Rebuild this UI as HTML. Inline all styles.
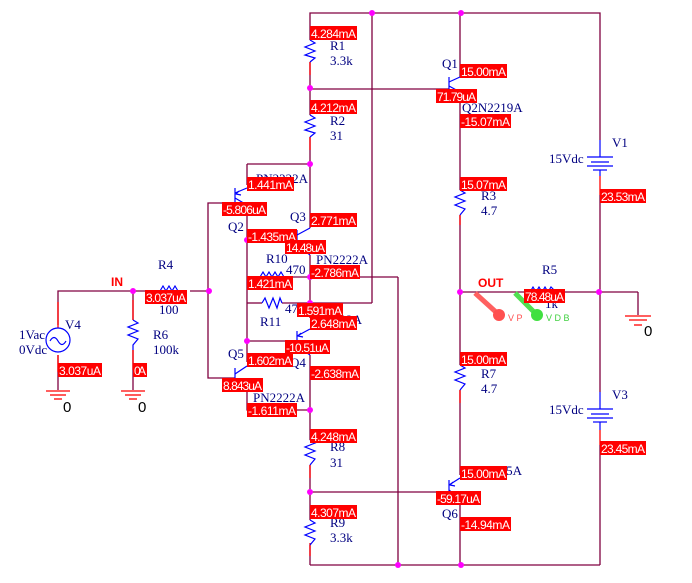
<!DOCTYPE html>
<html><head><meta charset="utf-8"><style>
html,body{margin:0;padding:0;background:#fff;}
svg{display:block;}
.w{stroke:#800040;stroke-width:1.3;fill:none;}
.b{stroke:#0000ff;stroke-width:1.2;fill:none;}
.r{stroke:#ff0000;stroke-width:1.3;fill:none;}
.n{fill:#ff00ff;}
.t{font-family:"Liberation Serif",serif;font-size:13px;fill:#000080;}
.l{font-family:"Liberation Sans",sans-serif;font-size:12px;fill:#fff;}
.lb{fill:#ff0000;}
.k{font-family:"Liberation Sans",sans-serif;font-size:15px;fill:#000;}
</style></head><body>
<svg width="692" height="583" viewBox="0 0 692 583" xmlns="http://www.w3.org/2000/svg">
<g class="w">
<polyline points="310,40 310,13 600,13 600,140"/>
<line x1="600" y1="195" x2="600" y2="392"/>
<line x1="600" y1="445" x2="600" y2="565"/>
<line x1="310" y1="565" x2="600" y2="565"/>
<line x1="310" y1="545" x2="310" y2="565"/>
<line x1="310" y1="62" x2="310" y2="115"/>
<line x1="310" y1="137" x2="310" y2="228"/>
<line x1="310" y1="255" x2="310" y2="318"/>
<line x1="310" y1="355" x2="310" y2="440"/>
<line x1="310" y1="465" x2="310" y2="520"/>
<line x1="310" y1="89" x2="449" y2="89"/>
<line x1="372" y1="13" x2="372" y2="303"/>
<line x1="247" y1="303" x2="262" y2="303"/>
<line x1="282" y1="303" x2="372" y2="303"/>
<line x1="460" y1="13" x2="460" y2="77"/>
<line x1="460" y1="100" x2="460" y2="190"/>
<line x1="460" y1="215" x2="460" y2="365"/>
<line x1="460" y1="390" x2="460" y2="475"/>
<line x1="460" y1="505" x2="460" y2="565"/>
<line x1="460" y1="292" x2="530" y2="292"/>
<line x1="556" y1="292" x2="638" y2="292"/>
<line x1="638" y1="292" x2="638" y2="315"/>
<line x1="310" y1="492" x2="449" y2="492"/>
<line x1="247" y1="277" x2="398" y2="277"/>
<line x1="398" y1="277" x2="398" y2="565"/>
<polyline points="247,164 310,164"/>
<line x1="247" y1="164" x2="247" y2="185"/>
<line x1="247" y1="205" x2="247" y2="303"/>
<line x1="247" y1="240" x2="297" y2="240"/>
<line x1="247" y1="303" x2="247" y2="362"/>
<line x1="247" y1="341" x2="297" y2="341"/>
<polyline points="247,388 247,410 310,410"/>
<polyline points="235,203 208,203 208,378 235,378"/>
<polyline points="58,325 58,291 145,291"/>
<line x1="190" y1="291" x2="208" y2="291"/>
<line x1="133" y1="291" x2="133" y2="320"/>
<line x1="133" y1="350" x2="133" y2="390"/>
<line x1="58" y1="355" x2="58" y2="390"/>
</g>
<g class="r">
<line x1="310" y1="62" x2="310" y2="75"/>
<line x1="310" y1="137" x2="310" y2="150"/>
<line x1="310" y1="465" x2="310" y2="478"/>
<line x1="310" y1="543" x2="310" y2="556"/>
<line x1="460" y1="215" x2="460" y2="225"/>
<line x1="460" y1="390" x2="460" y2="403"/>
<line x1="600" y1="176" x2="600" y2="195"/>
<line x1="600" y1="430" x2="600" y2="445"/>
<line x1="58" y1="355" x2="58" y2="372"/>
<line x1="133" y1="350" x2="133" y2="370"/>
<line x1="58" y1="302" x2="58" y2="328"/>
<line x1="133" y1="300" x2="133" y2="320"/>
</g>
<g class="b">
<polyline points="310,40 315,43 305,47 315,51 305,55 315,58 310,62"/>
<polyline points="310,115 315,118 305,122 315,126 305,130 315,133 310,137"/>
<polyline points="310,440 315,443 305,447 315,451 305,455 315,459 310,465"/>
<polyline points="310,520 315,523 305,527 315,531 305,535 315,539 310,545"/>
<polyline points="460,190 465,193 455,197 465,201 455,205 465,209 460,215"/>
<polyline points="460,365 465,368 455,372 465,376 455,380 465,384 460,390"/>
<polyline points="133,320 138,323 128,327 138,331 128,335 138,339 133,345 133,350"/>
<polyline points="262,303 265,298 269,308 273,298 277,308 280,298 282,303"/>
<polyline points="260,277 263,272 266,277 269,272 272,277 275,272 278,277 281,272 284,277"/>
<polyline points="160,291 163,286 166,291 169,286 172,291 175,286 178,291"/>
<polyline points="530,292 533,287 536,292 539,287 542,292 545,287 548,292 551,287 556,292"/>
<line x1="449" y1="77" x2="449" y2="92"/><line x1="449" y1="82" x2="460" y2="77"/><line x1="449" y1="86" x2="460" y2="92"/>
<line x1="235" y1="188" x2="235" y2="205"/><line x1="235" y1="193" x2="247" y2="188"/><line x1="235" y1="198" x2="247" y2="205"/><polyline points="239,191 236,194 241,195"/>
<line x1="297" y1="230" x2="297" y2="250"/><line x1="297" y1="235" x2="310" y2="228"/><line x1="297" y1="245" x2="310" y2="255"/>
<line x1="297" y1="331" x2="297" y2="351"/><line x1="297" y1="336" x2="310" y2="329"/><line x1="297" y1="346" x2="310" y2="355"/><polyline points="301,333 298,336 303,337"/>
<line x1="235" y1="368" x2="235" y2="388"/><line x1="235" y1="374" x2="247" y2="366"/><line x1="235" y1="383" x2="247" y2="388"/>
<line x1="449" y1="480" x2="449" y2="494"/><line x1="449" y1="485" x2="460" y2="478"/><line x1="449" y1="490" x2="460" y2="500"/><polyline points="453,482 450,485 455,486"/>
<line x1="600" y1="140" x2="600" y2="157"/><line x1="587" y1="157" x2="613" y2="157"/><line x1="591" y1="162" x2="609" y2="162"/><line x1="587" y1="166" x2="613" y2="166"/><line x1="593" y1="170" x2="607" y2="170"/><line x1="600" y1="170" x2="600" y2="176"/>
<line x1="600" y1="392" x2="600" y2="409"/><line x1="587" y1="409" x2="613" y2="409"/><line x1="591" y1="414" x2="609" y2="414"/><line x1="587" y1="418" x2="613" y2="418"/><line x1="593" y1="422" x2="607" y2="422"/><line x1="600" y1="422" x2="600" y2="430"/>
<circle cx="58" cy="340" r="12"/>
<path d="M50,341 q4,-7 8,0 t8,0"/>
</g>
<g class="r">
<line x1="46" y1="391" x2="70" y2="391"/><line x1="50" y1="395" x2="66" y2="395"/><line x1="54" y1="399" x2="62" y2="399"/>
<line x1="121" y1="391" x2="145" y2="391"/><line x1="125" y1="395" x2="141" y2="395"/><line x1="129" y1="399" x2="137" y2="399"/>
<line x1="625" y1="316" x2="651" y2="316"/><line x1="629" y1="320" x2="647" y2="320"/><line x1="634" y1="325" x2="642" y2="325"/>
</g>
<text class="k" x="63" y="412">0</text><text class="k" x="138" y="412">0</text><text class="k" x="644" y="336">0</text>
<g class="n">
<circle cx="372" cy="13" r="3"/><circle cx="461" cy="13" r="3"/><circle cx="310" cy="88" r="3"/><circle cx="310" cy="164" r="3"/>
<circle cx="247" cy="240" r="3"/><circle cx="310" cy="277" r="3"/><circle cx="310" cy="303" r="3"/><circle cx="247" cy="341" r="3"/>
<circle cx="310" cy="410" r="3"/><circle cx="310" cy="492" r="3"/><circle cx="398" cy="565" r="3"/><circle cx="461" cy="565" r="3"/>
<circle cx="460" cy="292" r="3"/><circle cx="599" cy="292" r="3"/><circle cx="133" cy="291" r="3"/><circle cx="209" cy="291" r="3"/>
</g>
<line x1="475" y1="293" x2="497" y2="313" stroke="#ff6060" stroke-width="5"/><circle cx="499" cy="315" r="6" fill="#ff5050"/>
<text x="508" y="321" font-family="Liberation Sans,sans-serif" font-size="9" fill="#ff5050">V P</text>
<line x1="515" y1="293" x2="535" y2="313" stroke="#50e050" stroke-width="5"/><circle cx="537" cy="315" r="6" fill="#40e040"/>
<text x="546" y="321" font-family="Liberation Sans,sans-serif" font-size="9" fill="#40d040">V D B</text>
<g class="t">
<text x="330" y="50">R1</text><text x="330" y="65">3.3k</text>
<text x="330" y="125">R2</text><text x="330" y="140">31</text>
<text x="442" y="68">Q1</text><text x="462" y="112">Q2N2219A</text>
<text x="256" y="183">PN2222A</text>
<text x="290" y="221">Q3</text><text x="228" y="231">Q2</text>
<text x="266" y="263">R10</text><text x="286" y="274">470</text><text x="316" y="264">PN2222A</text>
<text x="260" y="326">R11</text><text x="285" y="313">47</text><text x="310" y="324">PN2222A</text>
<text x="290" y="367">Q4</text><text x="228" y="358">Q5</text><text x="253" y="402">PN2222A</text>
<text x="330" y="451">R8</text><text x="330" y="467">31</text>
<text x="330" y="527">R9</text><text x="330" y="542">3.3k</text>
<text x="481" y="200">R3</text><text x="481" y="215">4.7</text>
<text x="612" y="147">V1</text><text x="549" y="163">15Vdc</text>
<text x="542" y="274">R5</text><text x="545" y="308">1k</text>
<text x="481" y="378">R7</text><text x="481" y="393">4.7</text>
<text x="612" y="399">V3</text><text x="549" y="414">15Vdc</text>
<text x="442" y="518">Q6</text><text x="470" y="475">PN2905A</text>
<text x="158" y="269">R4</text><text x="159" y="314">100</text>
<text x="153" y="339">R6</text><text x="153" y="354">100k</text>
<text x="65" y="329">V4</text><text x="19" y="339">1Vac</text><text x="19" y="354">0Vdc</text>
</g>
<text x="111" y="286" font-family="Liberation Sans,sans-serif" font-size="12" font-weight="bold" fill="#ff0000">IN</text>
<text x="478" y="287" font-family="Liberation Sans,sans-serif" font-size="12" font-weight="bold" fill="#ff0000">OUT</text>
<g>
<rect class="lb" x="310" y="26" width="47" height="14"/><text class="l" x="311" y="38" textLength="45">4.284mA</text>
<rect class="lb" x="310" y="100" width="47" height="14"/><text class="l" x="311" y="112" textLength="45">4.212mA</text>
<rect class="lb" x="247" y="177" width="47" height="14"/><text class="l" x="248" y="189" textLength="45">1.441mA</text>
<rect class="lb" x="222" y="202" width="45" height="14"/><text class="l" x="223" y="214" textLength="43">-5.806uA</text>
<rect class="lb" x="310" y="213" width="47" height="14"/><text class="l" x="311" y="225" textLength="45">2.771mA</text>
<rect class="lb" x="247" y="229" width="50" height="14"/><text class="l" x="248" y="241" textLength="48">-1.435mA</text>
<rect class="lb" x="285" y="240" width="41" height="14"/><text class="l" x="286" y="252" textLength="39">14.48uA</text>
<rect class="lb" x="310" y="265" width="50" height="14"/><text class="l" x="311" y="277" textLength="48">-2.786mA</text>
<rect class="lb" x="247" y="276" width="46" height="14"/><text class="l" x="248" y="288" textLength="44">1.421mA</text>
<rect class="lb" x="297" y="303" width="46" height="14"/><text class="l" x="298" y="315" textLength="44">1.591mA</text>
<rect class="lb" x="310" y="316" width="47" height="14"/><text class="l" x="311" y="328" textLength="45">2.648mA</text>
<rect class="lb" x="285" y="340" width="45" height="14"/><text class="l" x="286" y="352" textLength="43">-10.51uA</text>
<rect class="lb" x="247" y="353" width="46" height="14"/><text class="l" x="248" y="365" textLength="44">1.602mA</text>
<rect class="lb" x="310" y="366" width="50" height="14"/><text class="l" x="311" y="378" textLength="48">-2.638mA</text>
<rect class="lb" x="222" y="378" width="41" height="14"/><text class="l" x="223" y="390" textLength="39">8.843uA</text>
<rect class="lb" x="247" y="403" width="50" height="14"/><text class="l" x="248" y="415" textLength="48">-1.611mA</text>
<rect class="lb" x="310" y="429" width="47" height="14"/><text class="l" x="311" y="441" textLength="45">4.248mA</text>
<rect class="lb" x="310" y="505" width="47" height="14"/><text class="l" x="311" y="517" textLength="45">4.307mA</text>
<rect class="lb" x="460" y="64" width="47" height="14"/><text class="l" x="461" y="76" textLength="45">15.00mA</text>
<rect class="lb" x="436" y="89" width="41" height="14"/><text class="l" x="437" y="101" textLength="39">71.79uA</text>
<rect class="lb" x="460" y="114" width="51" height="14"/><text class="l" x="461" y="126" textLength="49">-15.07mA</text>
<rect class="lb" x="460" y="177" width="47" height="14"/><text class="l" x="461" y="189" textLength="45">15.07mA</text>
<rect class="lb" x="600" y="189" width="46" height="14"/><text class="l" x="601" y="201" textLength="44">23.53mA</text>
<rect class="lb" x="145" y="290" width="42" height="14"/><text class="l" x="146" y="302" textLength="40">3.037uA</text>
<rect class="lb" x="58" y="363" width="44" height="14"/><text class="l" x="59" y="375" textLength="42">3.037uA</text>
<rect class="lb" x="133" y="363" width="14" height="14"/><text class="l" x="134" y="375" textLength="12">0A</text>
<rect class="lb" x="524" y="289" width="41" height="14"/><text class="l" x="525" y="301" textLength="39">78.48uA</text>
<rect class="lb" x="460" y="352" width="47" height="14"/><text class="l" x="461" y="364" textLength="45">15.00mA</text>
<rect class="lb" x="600" y="441" width="46" height="14"/><text class="l" x="601" y="453" textLength="44">23.45mA</text>
<rect class="lb" x="460" y="466" width="47" height="14"/><text class="l" x="461" y="478" textLength="45">15.00mA</text>
<rect class="lb" x="436" y="491" width="45" height="14"/><text class="l" x="437" y="503" textLength="43">-59.17uA</text>
<rect class="lb" x="460" y="517" width="51" height="14"/><text class="l" x="461" y="529" textLength="49">-14.94mA</text>
</g>
</svg>
</body></html>
